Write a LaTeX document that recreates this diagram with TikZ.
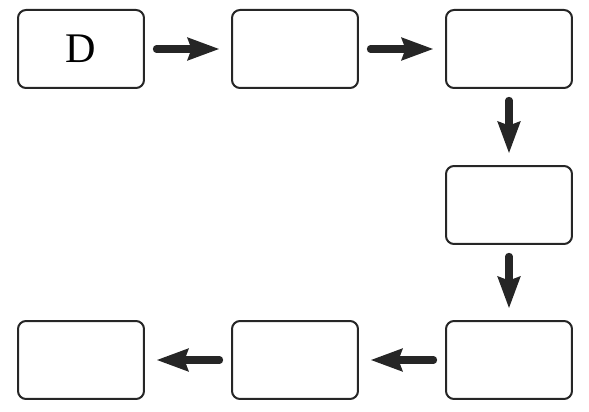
\documentclass[tikz,border=0pt]{standalone}
\usepackage{fontspec}
\setmainfont{Liberation Serif}
\usepackage{tikz}
\usetikzlibrary{arrows.meta}

\begin{document}
\begin{tikzpicture}[x=0.035cm, y=-0.035cm,
    box/.style={draw=black!85, line width=0.07cm, rounded corners=0.28cm,
                minimum width=4.41cm, minimum height=2.73cm, inner sep=0pt},
    flow/.style={draw=black!85, line width=0.25cm, line cap=round,
                 -{Stealth[length=1.1cm, width=0.76cm, inset=0.12cm]},
                 shorten <=0.4cm, shorten >=0.4cm}]
\useasboundingbox (0,0) rectangle (589,412);
\node [box] (d) at (81,49) {\fontsize{42}{50}\selectfont D};
\node [box] (b2) at (295,49) {};
\node [box] (b3) at (509,49) {};
\node [box] (b4) at (509,205) {};
\node [box] (b5) at (509,360) {};
\node [box] (b6) at (295,360) {};
\node [box] (b7) at (81,360) {};
\draw [flow] (d) -- (b2);
\draw [flow] (b2) -- (b3);
\draw [flow] (b3) -- (b4);
\draw [flow] (b4) -- (b5);
\draw [flow] (b5) -- (b6);
\draw [flow] (b6) -- (b7);
\end{tikzpicture}
\end{document}
